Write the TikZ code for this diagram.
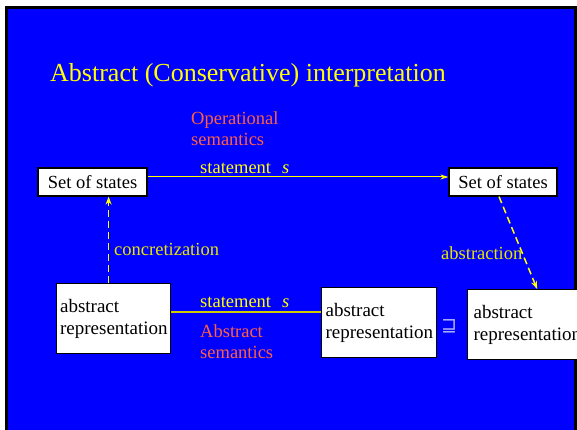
\documentclass[tikz,border=0pt]{standalone}
\usepackage{fontspec}
\setmainfont{Liberation Serif}
\newfontfamily\symfont{DejaVu Sans}
\usetikzlibrary{arrows.meta}
\definecolor{slideblue}{RGB}{0,0,255}
\definecolor{ylw}{RGB}{255,255,0}
\definecolor{dimylw}{RGB}{230,230,0}
\definecolor{olive2}{RGB}{204,204,0}
\definecolor{orng}{RGB}{255,96,64}
\definecolor{lblue}{RGB}{170,170,255}
\tikzset{
  box/.style={draw=black, fill=white, line width=1.2pt, text=black, font=\fontsize{19}{22}\selectfont, inner sep=0pt},
  twobox/.style={box, align=left, text width=107pt, inner xsep=3.5pt, minimum height=70pt, anchor=north west},
  lbl/.style={font=\fontsize{18.5}{21}\selectfont, anchor=base west, inner sep=0pt, align=left},
  yarrow/.style={draw=ylw, line width=1pt, -{Stealth[length=8pt,width=5pt]}},
  dasharrow/.style={draw=ylw, line width=1.5pt, dash pattern=on 7pt off 4pt, -{Stealth[length=8pt,width=6pt]}}
}
\begin{document}
\begin{tikzpicture}[x=1pt,y=-1pt]
\useasboundingbox (0,0) rectangle (577,430);
\draw[line width=3pt, draw=black, fill=slideblue] (6.5,7.5) rectangle (575.5,445);
\node[font=\fontsize{26}{30}\selectfont, text=ylw, anchor=base west, inner sep=0pt] (title) at (50,82) {Abstract (Conservative) interpretation};
\node[lbl, text=orng] (opsem) at (191,146) {Operational\\semantics};
\node[box, font=\fontsize{18.5}{22}\selectfont, minimum width=109pt, minimum height=28pt] (s1) at (92.5,182) {Set of states};
\node[box, font=\fontsize{18.5}{22}\selectfont, minimum width=108pt, minimum height=28pt] (s2) at (503,182) {Set of states};
\draw[yarrow] ([yshift=5pt]s1.east) -- ([yshift=5pt]s2.west);
\node[lbl, text=ylw] (st1) at (200,174) {statement\hspace{0.6em}\textit{s}};
\node[twobox] (a1) at (56,283) {abstract\\representation};
\node[twobox, inner xsep=4pt] (a2) at (321,287) {abstract\\representation};
\node[twobox, inner xsep=6pt] (a3) at (467,289) {abstract\\representation};
\coordinate (l1) at ([yshift=7pt]a1.east);
\draw[draw=olive2, line width=2pt] (l1) -- (l1 -| a2.west);
\node[lbl, text=ylw] (st2) at (200,307) {statement\hspace{0.6em}\textit{s}};
\node[lbl, text=orng] (absem) at (200,358) {Abstract\\semantics};
\coordinate (c1) at ([xshift=-5pt]a1.north);
\draw[dasharrow] (c1) -- (c1 |- s1.south);
\node[lbl, text=dimylw] (conc) at (114,255) {concretization};
\draw[dasharrow] ([xshift=-4pt]s2.south) -- ([xshift=10pt]a3.north);
\node[lbl, text=dimylw] (abst) at (441,259) {abstraction};
\node[font=\symfont\fontsize{19}{19}\selectfont, text=lblue, inner sep=0pt] (sq) at (449,326.5) {⊒};
\end{tikzpicture}
\end{document}
